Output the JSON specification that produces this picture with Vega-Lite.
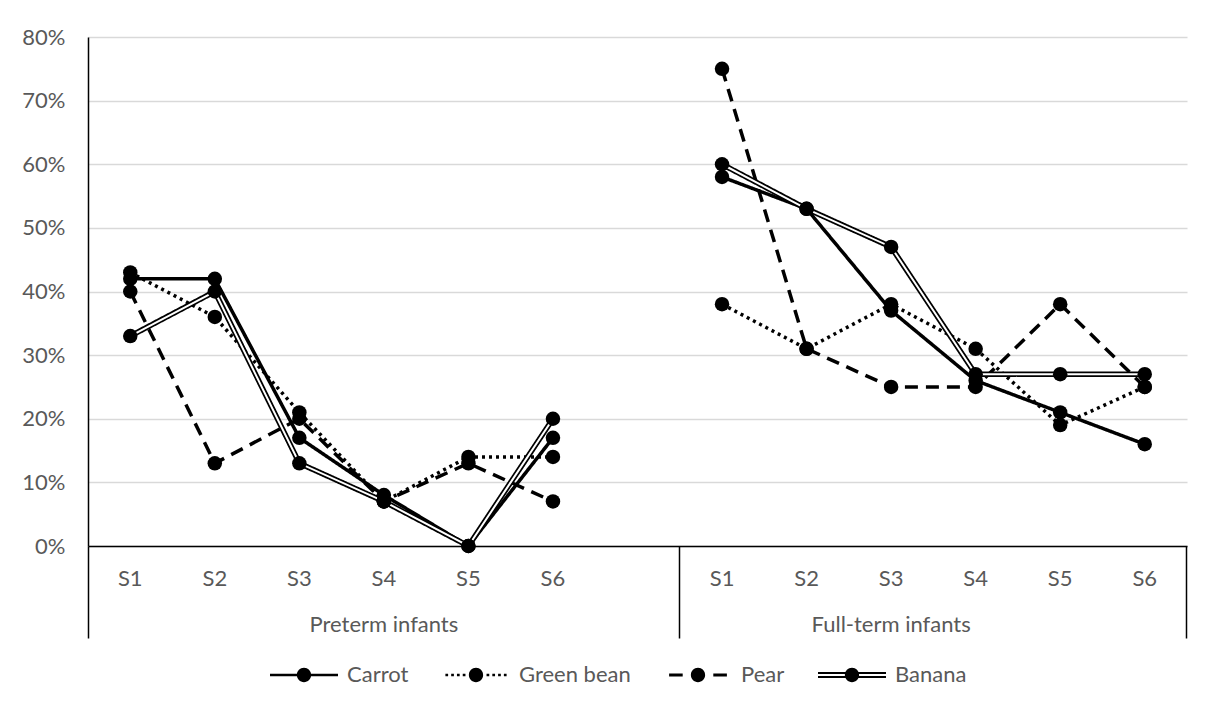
{
  "$schema": "https://vega.github.io/schema/vega-lite/v6.json",
  "width": 1099,
  "height": 509,
  "autosize": {"type": "none"},
  "padding": {"left": 88, "top": 37, "right": 25, "bottom": 163},
  "background": "white",
  "config": {
    "view": {"stroke": null},
    "font": "Lato",
    "axis": {"labelFont": "Lato", "labelFontSize": 22, "labelColor": "#595959"}
  },
  "datasets": {
    "main": [
      {"group": "Preterm infants", "pos": "P-S1", "food": "Carrot", "value": 0.42},
      {"group": "Preterm infants", "pos": "P-S2", "food": "Carrot", "value": 0.42},
      {"group": "Preterm infants", "pos": "P-S3", "food": "Carrot", "value": 0.17},
      {"group": "Preterm infants", "pos": "P-S4", "food": "Carrot", "value": 0.08},
      {"group": "Preterm infants", "pos": "P-S5", "food": "Carrot", "value": 0.0},
      {"group": "Preterm infants", "pos": "P-S6", "food": "Carrot", "value": 0.17},
      {"group": "Preterm infants", "pos": "P-S1", "food": "Green bean", "value": 0.43},
      {"group": "Preterm infants", "pos": "P-S2", "food": "Green bean", "value": 0.36},
      {"group": "Preterm infants", "pos": "P-S3", "food": "Green bean", "value": 0.21},
      {"group": "Preterm infants", "pos": "P-S4", "food": "Green bean", "value": 0.07},
      {"group": "Preterm infants", "pos": "P-S5", "food": "Green bean", "value": 0.14},
      {"group": "Preterm infants", "pos": "P-S6", "food": "Green bean", "value": 0.14},
      {"group": "Preterm infants", "pos": "P-S1", "food": "Pear", "value": 0.40},
      {"group": "Preterm infants", "pos": "P-S2", "food": "Pear", "value": 0.13},
      {"group": "Preterm infants", "pos": "P-S3", "food": "Pear", "value": 0.20},
      {"group": "Preterm infants", "pos": "P-S4", "food": "Pear", "value": 0.07},
      {"group": "Preterm infants", "pos": "P-S5", "food": "Pear", "value": 0.13},
      {"group": "Preterm infants", "pos": "P-S6", "food": "Pear", "value": 0.07},
      {"group": "Preterm infants", "pos": "P-S1", "food": "Banana", "value": 0.33},
      {"group": "Preterm infants", "pos": "P-S2", "food": "Banana", "value": 0.40},
      {"group": "Preterm infants", "pos": "P-S3", "food": "Banana", "value": 0.13},
      {"group": "Preterm infants", "pos": "P-S4", "food": "Banana", "value": 0.07},
      {"group": "Preterm infants", "pos": "P-S5", "food": "Banana", "value": 0.0},
      {"group": "Preterm infants", "pos": "P-S6", "food": "Banana", "value": 0.20},
      {"group": "Full-term infants", "pos": "F-S1", "food": "Carrot", "value": 0.58},
      {"group": "Full-term infants", "pos": "F-S2", "food": "Carrot", "value": 0.53},
      {"group": "Full-term infants", "pos": "F-S3", "food": "Carrot", "value": 0.37},
      {"group": "Full-term infants", "pos": "F-S4", "food": "Carrot", "value": 0.26},
      {"group": "Full-term infants", "pos": "F-S5", "food": "Carrot", "value": 0.21},
      {"group": "Full-term infants", "pos": "F-S6", "food": "Carrot", "value": 0.16},
      {"group": "Full-term infants", "pos": "F-S1", "food": "Green bean", "value": 0.38},
      {"group": "Full-term infants", "pos": "F-S2", "food": "Green bean", "value": 0.31},
      {"group": "Full-term infants", "pos": "F-S3", "food": "Green bean", "value": 0.38},
      {"group": "Full-term infants", "pos": "F-S4", "food": "Green bean", "value": 0.31},
      {"group": "Full-term infants", "pos": "F-S5", "food": "Green bean", "value": 0.19},
      {"group": "Full-term infants", "pos": "F-S6", "food": "Green bean", "value": 0.25},
      {"group": "Full-term infants", "pos": "F-S1", "food": "Pear", "value": 0.75},
      {"group": "Full-term infants", "pos": "F-S2", "food": "Pear", "value": 0.31},
      {"group": "Full-term infants", "pos": "F-S3", "food": "Pear", "value": 0.25},
      {"group": "Full-term infants", "pos": "F-S4", "food": "Pear", "value": 0.25},
      {"group": "Full-term infants", "pos": "F-S5", "food": "Pear", "value": 0.38},
      {"group": "Full-term infants", "pos": "F-S6", "food": "Pear", "value": 0.25},
      {"group": "Full-term infants", "pos": "F-S1", "food": "Banana", "value": 0.60},
      {"group": "Full-term infants", "pos": "F-S2", "food": "Banana", "value": 0.53},
      {"group": "Full-term infants", "pos": "F-S3", "food": "Banana", "value": 0.47},
      {"group": "Full-term infants", "pos": "F-S4", "food": "Banana", "value": 0.27},
      {"group": "Full-term infants", "pos": "F-S5", "food": "Banana", "value": 0.27},
      {"group": "Full-term infants", "pos": "F-S6", "food": "Banana", "value": 0.27}
    ]
  },
  "layer": [
    {
      "data": {"name": "main"},
      "mark": {"type": "line", "strokeCap": "butt", "strokeJoin": "miter"},
      "encoding": {
        "x": {
          "field": "pos", "type": "nominal",
          "scale": {"type": "band", "domain": ["P-S1","P-S2","P-S3","P-S4","P-S5","P-S6","gap","F-S1","F-S2","F-S3","F-S4","F-S5","F-S6"], "paddingInner": 0, "paddingOuter": 0},
          "axis": {"orient": "bottom", "title": null, "labelExpr": "datum.value == 'gap' ? '' : substring(datum.value, 2)", "ticks": false, "tickSize": 0, "labelPadding": 32, "labelBaseline": "middle", "labelAngle": 0, "domainColor": "black", "domainWidth": 1.5, "grid": false}
        },
        "y": {
          "field": "value", "type": "quantitative",
          "scale": {"domain": [0, 0.8], "nice": false},
          "axis": {"title": null, "values": [0, 0.1, 0.2, 0.3, 0.4, 0.5, 0.6, 0.7, 0.8], "format": ".0%", "ticks": false, "tickSize": 0, "labelPadding": 23, "gridColor": "#d9d9d9", "gridWidth": 1.5, "domainColor": "black", "domainWidth": 1.5}
        },
        "detail": [{"field": "group", "type": "nominal"}, {"field": "food", "type": "nominal"}],
        "strokeDash": {"condition": [{"test": "datum.food === 'Green bean'", "value": [3, 4]}, {"test": "datum.food === 'Pear'", "value": [13, 8]}], "value": [1, 0]},
        "strokeWidth": {"condition": [{"test": "datum.food === 'Banana'", "value": 5.5}], "value": 3.5},
        "color": {"value": "black"}
      }
    },
    {
      "data": {"name": "main"},
      "transform": [{"filter": "datum.food === 'Banana'"}],
      "mark": {"type": "line", "color": "white", "strokeWidth": 2, "strokeJoin": "miter"},
      "encoding": {
        "x": {"field": "pos", "type": "nominal", "axis": null},
        "y": {"field": "value", "type": "quantitative"},
        "detail": {"field": "group", "type": "nominal"}
      }
    },
    {
      "data": {"name": "main"},
      "mark": {"type": "point", "filled": true, "shape": "circle", "size": 210, "color": "black", "opacity": 1},
      "encoding": {
        "x": {"field": "pos", "type": "nominal", "axis": null},
        "y": {"field": "value", "type": "quantitative"}
      }
    },
    {
      "data": {"values": []},
      "mark": {"type": "point"},
      "encoding": {
        "x": {"field": "pos", "type": "nominal", "axis": {"orient": "bottom", "title": null, "values": ["P-S1", "F-S1"], "bandPosition": 0, "labels": false, "domain": false, "ticks": true, "tickSize": 92, "tickWidth": 1.5, "tickColor": "black", "grid": false}}
      }
    },
    {
      "data": {"values": []},
      "mark": {"type": "point"},
      "encoding": {
        "x": {"field": "pos", "type": "nominal", "axis": {"orient": "bottom", "title": null, "values": ["F-S6"], "bandPosition": 1, "labels": false, "domain": false, "ticks": true, "tickSize": 92, "tickWidth": 1.5, "tickColor": "black", "grid": false}}
      }
    },
    {
      "data": {"values": []},
      "mark": {"type": "point"},
      "encoding": {
        "x": {"field": "pos", "type": "nominal", "axis": {"orient": "bottom", "title": null, "values": ["P-S4"], "bandPosition": 0.5, "labelExpr": "'Preterm infants'", "labelPadding": 78, "labelBaseline": "middle", "labelAngle": 0, "domain": false, "ticks": false, "tickSize": 0, "grid": false}}
      }
    },
    {
      "data": {"values": []},
      "mark": {"type": "point"},
      "encoding": {
        "x": {"field": "pos", "type": "nominal", "axis": {"orient": "bottom", "title": null, "values": ["F-S3"], "bandPosition": 1, "labelExpr": "'Full-term infants'", "labelPadding": 78, "labelBaseline": "middle", "labelAngle": 0, "domain": false, "ticks": false, "tickSize": 0, "grid": false}}
      }
    },
    {
      "data": {"name": "main"},
      "mark": {"type": "point", "filled": true, "color": "black", "size": 0},
      "encoding": {
        "x": {"field": "pos", "type": "nominal", "axis": null},
        "y": {"field": "value", "type": "quantitative"},
        "shape": {
          "field": "food", "type": "nominal",
          "scale": {
            "domain": ["Carrot", "Green bean", "Pear", "Banana"],
            "range": [
              "M-1,-0.04H1V0.04H-1Z M0.21,0A0.21,0.21 0 1 1 -0.21,0A0.21,0.21 0 1 1 0.21,0Z",
              "M-0.9,-0.04h0.08v0.08h-0.08Z M-0.73,-0.04h0.08v0.08h-0.08Z M-0.56,-0.04h0.08v0.08h-0.08Z M-0.39,-0.04h0.08v0.08h-0.08Z M0.31,-0.04h0.08v0.08h-0.08Z M0.48,-0.04h0.08v0.08h-0.08Z M0.65,-0.04h0.08v0.08h-0.08Z M0.82,-0.04h0.08v0.08h-0.08Z M0.21,0A0.21,0.21 0 1 1 -0.21,0A0.21,0.21 0 1 1 0.21,0Z",
              "M-0.85,-0.045H-0.45V0.045H-0.85Z M0.45,-0.045H0.85V0.045H0.45Z M0.21,0A0.21,0.21 0 1 1 -0.21,0A0.21,0.21 0 1 1 0.21,0Z",
              "M-1,-0.085H1V-0.03H-1Z M-1,0.03H1V0.085H-1Z M0.21,0A0.21,0.21 0 1 1 -0.21,0A0.21,0.21 0 1 1 0.21,0Z"
            ]
          },
          "legend": {"title": null, "orient": "none", "legendX": 182, "legendY": 604, "direction": "horizontal", "columns": 4, "symbolSize": 4624, "symbolStrokeWidth": 0, "symbolFillColor": "black", "symbolOpacity": 1, "labelFont": "Lato", "labelFontSize": 22, "labelColor": "#595959", "labelOffset": 9, "columnPadding": 33, "padding": 0}
        }
      }
    }
  ],
  "resolve": {"axis": {"x": "independent"}}
}
